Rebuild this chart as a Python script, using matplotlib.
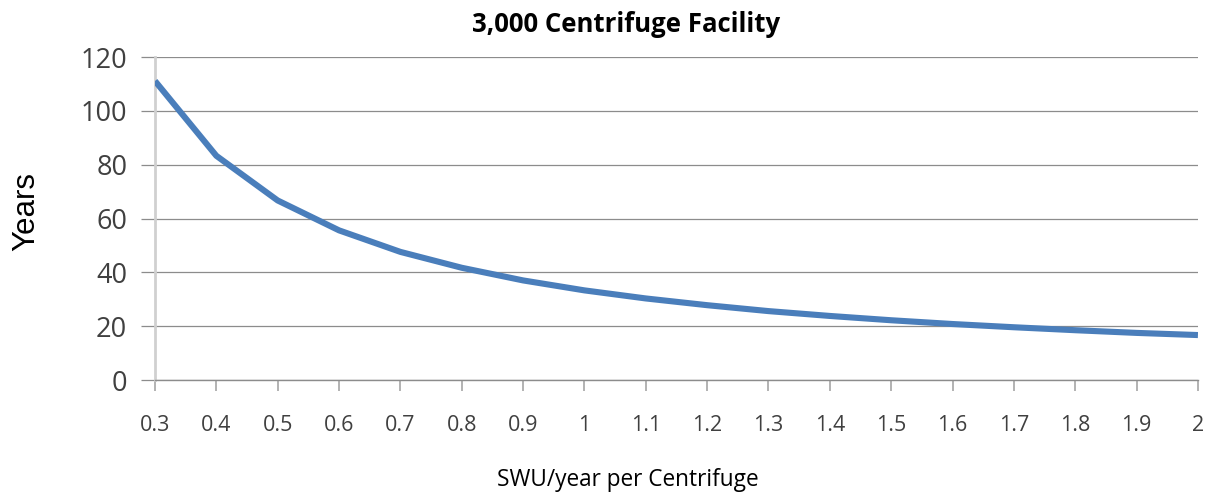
"""Years needed vs centrifuge performance for a 3,000 centrifuge facility."""

import matplotlib

matplotlib.use("Agg")
import matplotlib.pyplot as plt

# Data
swu_per_centrifuge = [0.3, 0.4, 0.5, 0.6, 0.7, 0.8, 0.9, 1, 1.1, 1.2,
                      1.3, 1.4, 1.5, 1.6, 1.7, 1.8, 1.9, 2]
x_labels = ["0.3", "0.4", "0.5", "0.6", "0.7", "0.8", "0.9", "1", "1.1", "1.2",
            "1.3", "1.4", "1.5", "1.6", "1.7", "1.8", "1.9", "2"]
years = [111.1, 83.3, 66.7, 55.6, 47.6, 41.7, 37.0, 33.3, 30.3, 27.8,
         25.6, 23.8, 22.2, 20.8, 19.6, 18.5, 17.5, 16.7]
y_ticks = [0, 20, 40, 60, 80, 100, 120]

LINE_COLOR = "#4a7ebb"
GRID_COLOR = "#8c8c8c"
TEXT_COLOR = "#404040"

fig = plt.figure(figsize=(12.07, 4.97), dpi=100)
ax = fig.add_axes([0.1284, 0.2354, 0.8641, 0.6499])

positions = list(range(len(swu_per_centrifuge)))
ax.plot(positions, years, color=LINE_COLOR, linewidth=4.4, solid_capstyle="butt", zorder=3)

ax.set_xlim(0, len(positions) - 1)
ax.set_ylim(0, 120)
ax.set_xticks(positions)
ax.set_xticklabels(x_labels, family="Open Sans", fontsize=15.5, color=TEXT_COLOR)
ax.set_yticks(y_ticks)
ax.set_yticklabels([str(v) for v in y_ticks], family="Open Sans", fontsize=19.5, color=TEXT_COLOR)

# Horizontal gridlines, light gray left axis
ax.grid(True, axis="y", color=GRID_COLOR, linewidth=0.9, zorder=0)
for side in ["top", "right"]:
    ax.spines[side].set_visible(False)
ax.spines["left"].set_color("#d0d0d0")
ax.spines["left"].set_linewidth(2.0)
ax.spines["bottom"].set_color(GRID_COLOR)
ax.spines["bottom"].set_linewidth(1.0)
ax.tick_params(axis="x", direction="out", length=8, width=1.2, color="#a6a6a6", pad=17)
ax.tick_params(axis="y", direction="out", length=10, width=0.9, color=GRID_COLOR, pad=10)

fig.text(0.519, 0.950, "3,000 Centrifuge Facility", family="Open Sans", fontweight="bold",
         fontsize=18.5, color="black", ha="center", va="center")
fig.text(0.520, 0.034, "SWU/year per Centrifuge", family="Open Sans", fontsize=16.3,
         color="black", ha="center", va="center")
fig.text(0.022, 0.575, "Years", family="Liberation Sans", fontsize=22.5, color="black",
         rotation=90, ha="center", va="center")

fig.savefig("out.png", dpi=100)
